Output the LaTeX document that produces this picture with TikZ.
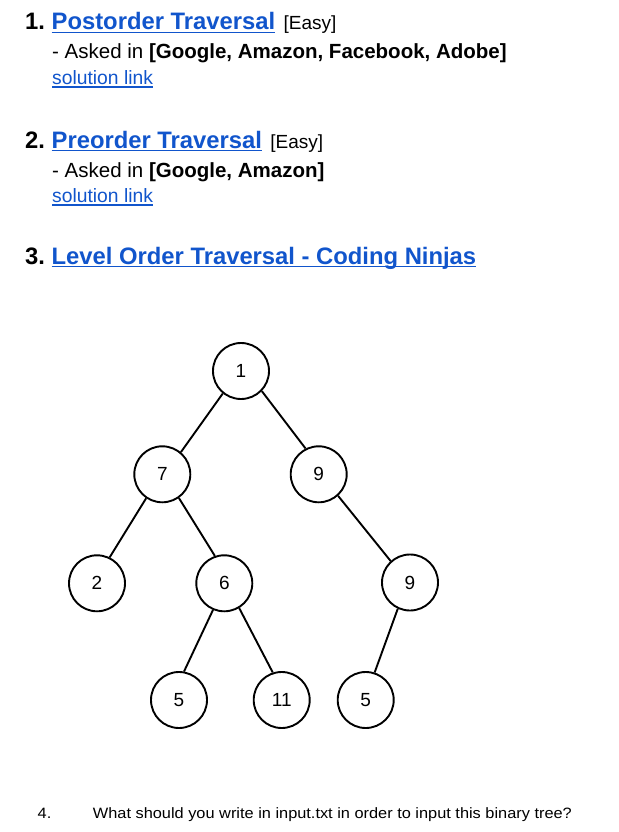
\documentclass[tikz,border=0pt]{standalone}
\usepackage{fontspec}
\setmainfont{Liberation Sans}
\newfontfamily\stretchfont{Liberation Sans}[FakeStretch=1.09]
\usepackage{tikz}
\usetikzlibrary{positioning}

\definecolor{linkblue}{HTML}{1155CC}

\newcommand{\headfont}{\fontsize{23.8}{28}\selectfont\bfseries}
\newcommand{\levelfont}{\fontsize{19}{22}\selectfont}
\newcommand{\askfont}{\fontsize{20.5}{24}\selectfont}
\newcommand{\solfont}{\fontsize{19.3}{23}\selectfont}
\newcommand{\qfont}{\stretchfont\fontsize{15}{18}\selectfont}
\newcommand{\lnk}[1]{{\color{linkblue}\setbox0\hbox{#1}\rlap{\rule[-3.4pt]{\wd0}{1.6pt}}\box0}}

\tikzset{
  treenode/.style={circle, draw, line width=1.9pt, minimum size=56pt,
    inner sep=0pt, font=\fontsize{19}{22}\selectfont},
  treeedge/.style={line width=1.9pt},
  txt/.style={anchor=base west, inner sep=0pt}
}

\begin{document}
\begin{tikzpicture}[x=1pt, y=-1pt]
  \useasboundingbox[fill=white] (0,0) rectangle (618,832);

  % problem list
  \node[txt] (p1) at (25,30) {\headfont 1.\hspace{6.6pt}\lnk{Postorder Traversal}\hspace{8.4pt}{\mdseries\levelfont [Easy]}};
  \node[txt] (a1) at (52,59) {\askfont - Asked in \textbf{[Google, Amazon, Facebook, Adobe]}};
  \node[txt] (s1) at (52,84.5) {\solfont\lnk{solution link}};

  \node[txt] (p2) at (25,148) {\headfont 2.\hspace{6.6pt}\lnk{Preorder Traversal}\hspace{8.4pt}{\mdseries\levelfont [Easy]}};
  \node[txt] (a2) at (52,177) {\askfont - Asked in \textbf{[Google, Amazon]}};
  \node[txt] (s2) at (52,202.5) {\solfont\lnk{solution link}};

  \node[txt] (p3) at (25,264) {\headfont 3.\hspace{6.6pt}\lnk{Level Order Traversal - Coding Ninjas}};

  % binary tree
  \node[treenode] (n1)  at (241,371)   {1};
  \node[treenode] (n7)  at (162.3,474.3) {7};
  \node[treenode] (n9)  at (318.7,474.3) {9};
  \node[treenode] (n2)  at (97,583.3)  {2};
  \node[treenode] (n6)  at (224.3,583.3) {6};
  \node[treenode] (n9b) at (410,582.5) {9};
  \node[treenode] (n5a) at (179,700)   {5};
  \node[treenode] (n11) at (281.7,700) {11};
  \node[treenode] (n5b) at (365.7,700) {5};

  \draw[treeedge] (n1.-129) -- (n7.50);
  \draw[treeedge] (n1.-44) -- (n9.117);
  \draw[treeedge] (n7.-124) -- (n2.64);
  \draw[treeedge] (n7.-55) -- (n6.109);
  \draw[treeedge] (n9.-48) -- (n9b.132);
  \draw[treeedge] (n6.-113) -- (n5a.80);
  \draw[treeedge] (n6.-59) -- (n11.108);
  \draw[treeedge] (n9b.-115) -- (n5b.72);

  % question
  \node[txt] (q4) at (37.5,818) {\qfont 4.};
  \node[txt] (q)  at (92.7,818) {\qfont What should you write in input.txt in order to input this binary tree?};
\end{tikzpicture}
\end{document}
